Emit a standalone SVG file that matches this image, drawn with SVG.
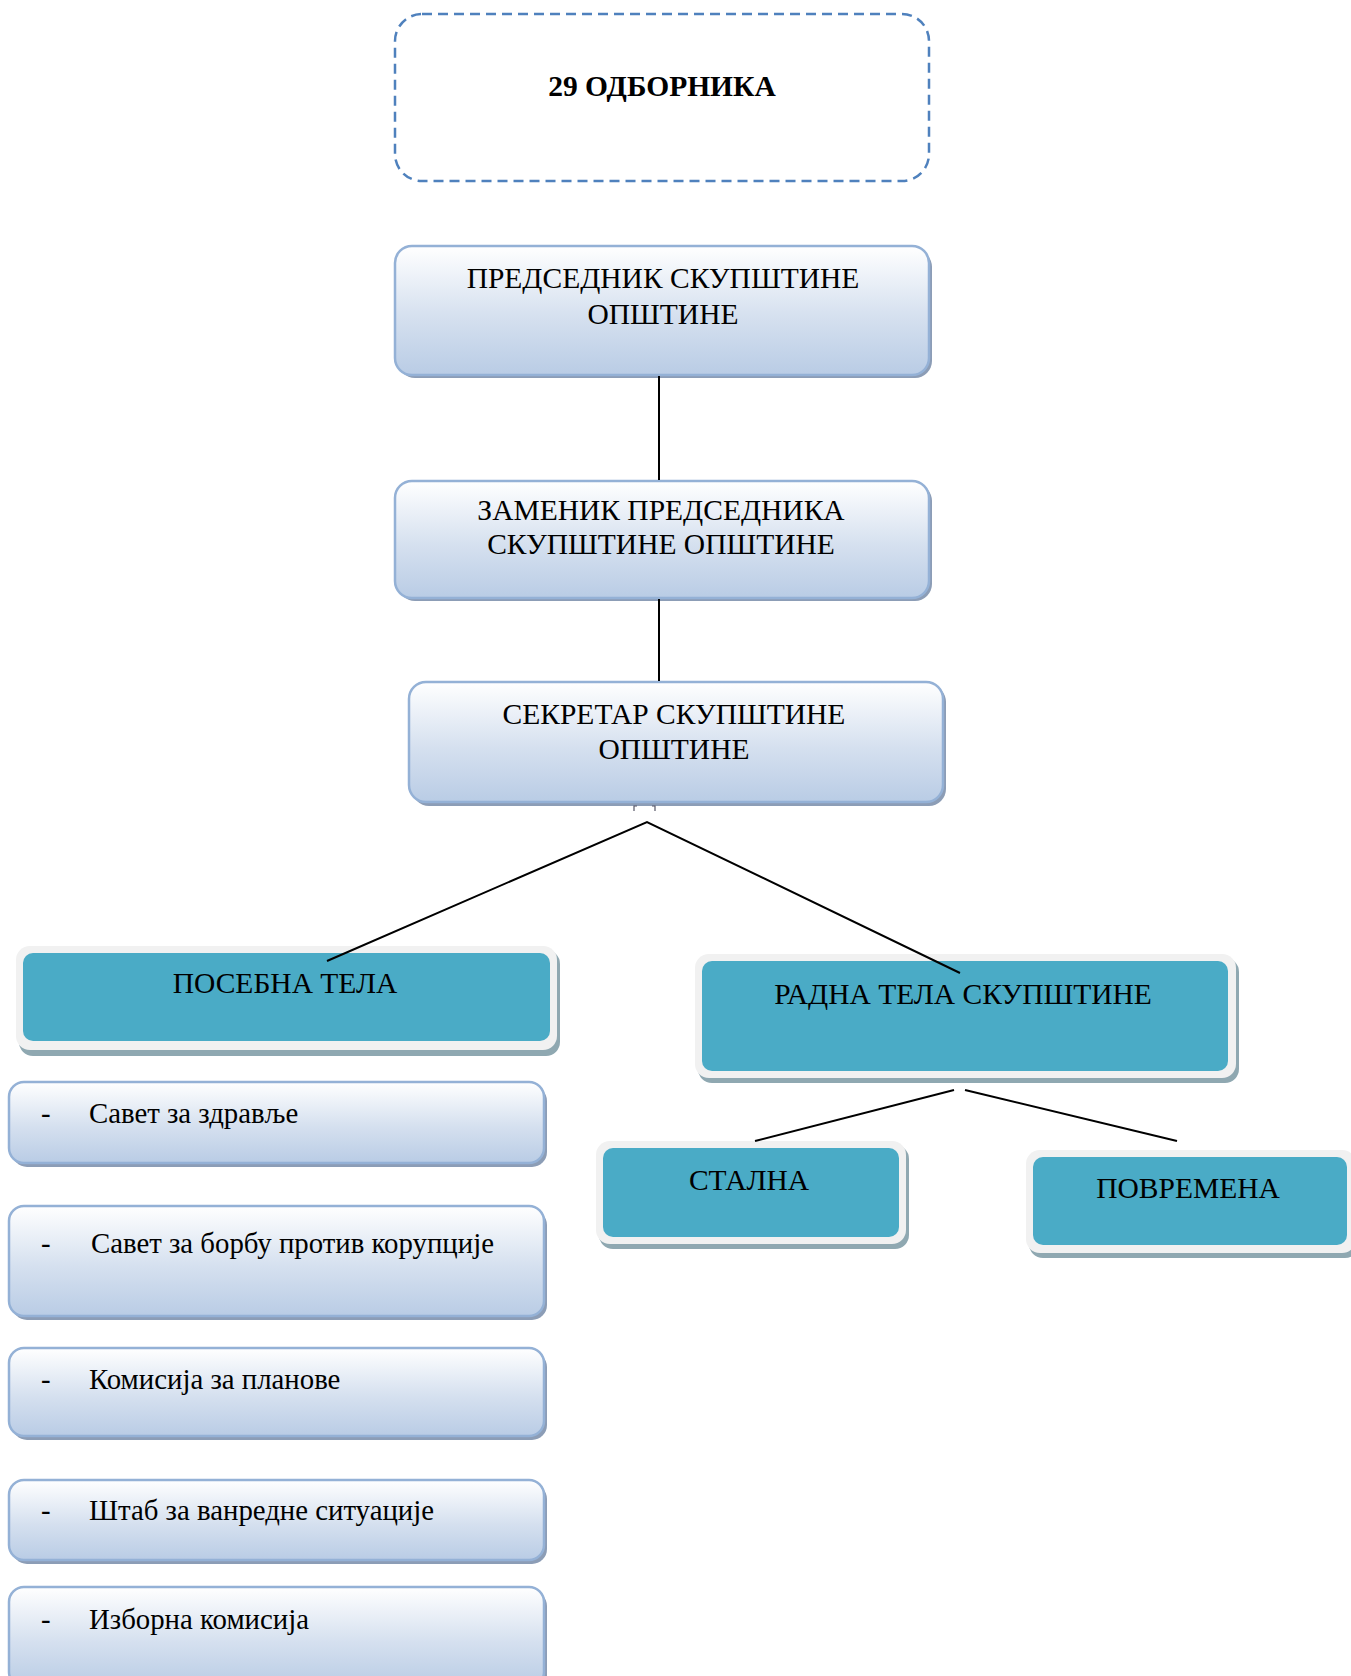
<svg xmlns="http://www.w3.org/2000/svg" width="1351" height="1676" viewBox="0 0 1351 1676">
<defs>
<linearGradient id="gb" x1="0" y1="0" x2="0" y2="1">
<stop offset="0" stop-color="#ffffff"/>
<stop offset="0.55" stop-color="#d5e0ef"/>
<stop offset="1" stop-color="#b9cce5"/>
</linearGradient>
<style>
.t{font-family:"Liberation Serif","Times New Roman",serif;font-size:29.5px;fill:#000}
.l{font-size:28.8px}
.c{text-anchor:middle}
.b{font-weight:bold}
.bx{fill:url(#gb);stroke:#94b1d6;stroke-width:2.5}
.sh{fill:#8c9db6}
.to{fill:#f1f1f1}
.ti{fill:#4aabc6}
.ts{fill:#8fa8b1}
.ln{stroke:#000;stroke-width:2;fill:none}
</style>
</defs>
<rect width="1351" height="1676" fill="#fff"/>

<g id="n-odbornika">
<rect x="395" y="14" width="534" height="167" rx="27" fill="none" stroke="#4f81bd" stroke-width="2.5" stroke-dasharray="10 6"/>
<text class="t c b" x="662" y="96">29 ОДБОРНИКА</text>
</g>

<g id="n-predsednik">
<rect class="sh" x="398" y="250" width="534" height="128" rx="17"/>
<rect class="bx" x="395" y="246" width="534" height="129" rx="17"/>
<text class="t c" x="663" y="288">ПРЕДСЕДНИК СКУПШТИНЕ</text>
<text class="t c" x="663" y="324">ОПШТИНЕ</text>
</g>

<g id="n-zamenik">
<rect class="sh" x="398" y="484" width="534" height="117" rx="17"/>
<rect class="bx" x="395" y="481" width="534" height="117" rx="17"/>
<text class="t c" x="661" y="520">ЗАМЕНИК ПРЕДСЕДНИКА</text>
<text class="t c" x="661" y="554">СКУПШТИНЕ ОПШТИНЕ</text>
</g>

<g id="n-sekretar">
<rect class="sh" x="412" y="685" width="534" height="121" rx="17"/>
<rect class="bx" x="409" y="682" width="534" height="120" rx="17"/>
<text class="t c" x="674" y="724">СЕКРЕТАР СКУПШТИНЕ</text>
<text class="t c" x="674" y="759">ОПШТИНЕ</text>
</g>

<g id="n-posebna">
<rect class="ts" x="19" y="950" width="541" height="106" rx="14"/>
<rect class="to" x="16" y="946" width="541" height="104" rx="14"/>
<rect class="ti" x="23" y="953" width="527" height="88" rx="10"/>
<text class="t c" x="285" y="993">ПОСЕБНА ТЕЛА</text>
</g>

<g id="n-radna">
<rect class="ts" x="698" y="958" width="541" height="125" rx="14"/>
<rect class="to" x="695" y="954" width="541" height="124" rx="14"/>
<rect class="ti" x="702" y="961" width="526" height="110" rx="10"/>
<text class="t c" x="963" y="1004">РАДНА ТЕЛА СКУПШТИНЕ</text>
</g>

<g id="n-stalna">
<rect class="ts" x="599" y="1145" width="310" height="104" rx="14"/>
<rect class="to" x="596" y="1141" width="310" height="103" rx="14"/>
<rect class="ti" x="603" y="1148" width="296" height="89" rx="10"/>
<text class="t c" x="749" y="1190">СТАЛНА</text>
</g>

<g id="n-povremena">
<rect class="ts" x="1029" y="1154" width="330" height="104" rx="14"/>
<rect class="to" x="1026" y="1150" width="330" height="103" rx="14"/>
<rect class="ti" x="1033" y="1157" width="314" height="88" rx="10"/>
<text class="t c" x="1188" y="1198">ПОВРЕМЕНА</text>
</g>

<g id="n-zdravlje">
<rect class="sh" x="12" y="1086" width="535" height="81" rx="15"/>
<rect class="bx" x="9" y="1082" width="535" height="81" rx="15"/>
<text class="t l" x="41" y="1123">-</text>
<text class="t l" x="89" y="1123">Савет за здравље</text>
</g>

<g id="n-korupcija">
<rect class="sh" x="12" y="1210" width="535" height="110" rx="15"/>
<rect class="bx" x="9" y="1206" width="535" height="110" rx="15"/>
<text class="t l" x="41" y="1253">-</text>
<text class="t l" x="91" y="1253">Савет за борбу против  корупције</text>
</g>

<g id="n-planovi">
<rect class="sh" x="12" y="1352" width="535" height="88" rx="15"/>
<rect class="bx" x="9" y="1348" width="535" height="88" rx="15"/>
<text class="t l" x="41" y="1389">-</text>
<text class="t l" x="89" y="1389">Комисија  за планове</text>
</g>

<g id="n-stab">
<rect class="sh" x="12" y="1484" width="535" height="80" rx="15"/>
<rect class="bx" x="9" y="1480" width="535" height="80" rx="15"/>
<text class="t l" x="41" y="1520">-</text>
<text class="t l" x="89" y="1520">Штаб за ванредне ситуације</text>
</g>

<g id="n-izborna">
<rect class="sh" x="12" y="1591" width="535" height="100" rx="15"/>
<rect class="bx" x="9" y="1587" width="535" height="100" rx="15"/>
<text class="t l" x="41" y="1629">-</text>
<text class="t l" x="89" y="1629">Изборна комисија</text>
</g>

<g id="connectors">
<line class="ln" x1="659" y1="376" x2="659" y2="480"/>
<line class="ln" x1="659" y1="599" x2="659" y2="681"/>
<path d="M634 811 V806 H637 M655 811 V806 H652" stroke="#556" stroke-width="1.2" fill="none"/>
<polyline class="ln" points="327,961 647,822 960,973"/>
<line class="ln" x1="954" y1="1090" x2="755" y2="1141"/>
<line class="ln" x1="965" y1="1090" x2="1177" y2="1141"/>
</g>
</svg>
